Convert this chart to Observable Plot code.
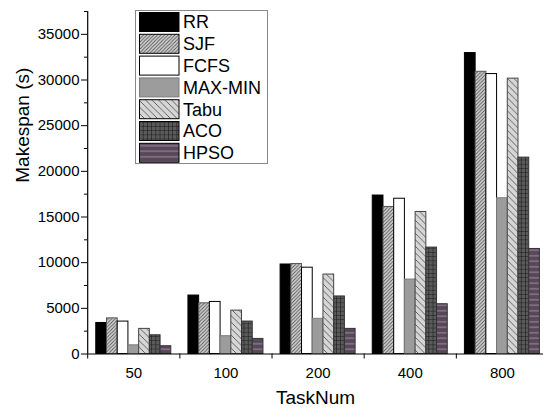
<!DOCTYPE html>
<html><head><meta charset="utf-8">
<script src="https://cdn.jsdelivr.net/npm/d3@7"></script>
<script src="https://cdn.jsdelivr.net/npm/@observablehq/plot@0.6"></script>
<style>body{margin:0;background:#fff} svg{font-family:"Liberation Sans",Arial,sans-serif}</style>
</head><body><div id="chart"></div>
<script>
const groups = ["50", "100", "200", "400", "800"];
const series = ["RR", "SJF", "FCFS", "MAX-MIN", "Tabu", "ACO", "HPSO"];
const RR     = [3400, 6400, 9800, 17350, 32950];
const SJF    = [3900, 5550, 9850, 16100, 30900];
const FCFS   = [3550, 5700, 9450, 17000, 30650];
const MAXMIN = [950, 1950, 3850, 8150, 17050];
const Tabu   = [2750, 4750, 8700, 15550, 30150];
const ACO    = [2050, 3550, 6300, 11650, 21500];
const HPSO   = [850, 1650, 2750, 5450, 11500];
const values = [RR, SJF, FCFS, MAXMIN, Tabu, ACO, HPSO];
const yTicks = [0, 5000, 10000, 15000, 20000, 25000, 30000, 35000];

const fills = ["#000000", "url(#pSJF)", "#ffffff", "#9c9c9c", "url(#pTabu)", "url(#pACO)", "url(#pHPSO)"];
const strokes = ["#000000", "#555555", "#000000", "#7a7a7a", "#444444", "#333333", "#333333"];

const pad = 0.8, n = series.length, step = 1 / (n + 2 * pad);
const data = [];
series.forEach((s, si) => groups.forEach((g, gi) => {
  const x1 = gi - 0.5 + (pad + si) * step;
  data.push({series: s, si, group: g, gi, value: values[si][gi], x1, x2: x1 + step});
}));

const font = 15;
const plot = Plot.plot({
  width: 545, height: 409,
  marginLeft: 87, marginRight: 2, marginTop: 11, marginBottom: 55.5,
  style: {fontFamily: '"Liberation Sans", Arial, sans-serif', background: "#fff", color: "#000"},
  x: {type: "linear", domain: [-0.5, 4.5], range: [87.2, 548]},
  y: {domain: [0, 37500]},
  marks: [
    ...series.map((s, si) => Plot.rectY(data.filter(d => d.si === si), {
      x1: "x1", x2: "x2", y: "value", fill: fills[si], stroke: strokes[si], strokeWidth: 1
    })),
    Plot.ruleY([0], {stroke: "#000", strokeWidth: 1.2}),
    Plot.ruleX([-0.5], {stroke: "#000", strokeWidth: 1.2}),
    Plot.axisY({ticks: yTicks, tickSize: 6, tickPadding: 2, fontSize: font, label: null, tickFormat: d => String(d)}),
    Plot.axisY({ticks: d3.range(2500, 37501, 5000), tickSize: 3, tickFormat: () => "", label: null}),
    Plot.axisX({ticks: d3.range(0, groups.length), tickSize: 0, tickPadding: 13, fontSize: font, tickFormat: i => groups[i], label: null}),
    Plot.axisX({ticks: d3.range(-0.5, groups.length - 0.5, 1), tickSize: 5, tickFormat: () => "", label: null}),
    Plot.text(["Makespan (s)"], {frameAnchor: "left", rotate: -90, dx: -65, fontSize: 19, fill: "#000"}),
    Plot.text(["TaskNum"], {frameAnchor: "bottom", dy: 50, fontSize: 19, fill: "#000"})
  ]
});

const svg = d3.select(plot);
const defs = svg.insert("defs", ":first-child");
function pattern(id, size, bg, lines, color, w) {
  const p = defs.append("pattern").attr("id", id).attr("patternUnits", "userSpaceOnUse")
    .attr("width", size).attr("height", size);
  p.append("rect").attr("width", size).attr("height", size).attr("fill", bg);
  p.append("path").attr("d", lines).attr("stroke", color).attr("stroke-width", w).attr("fill", "none");
}
const s1 = 3.5;
pattern("pSJF", s1, "#d4d4d4", `M0,${s1} L${s1},0 M${-1},1 L1,-1 M${s1-1},${s1+1} L${s1+1},${s1-1}`, "#555", 0.9);
const s2 = 6.5;
pattern("pTabu", s2, "#d6d6d6", `M0,0 L${s2},${s2} M-1,${s2-1} L1,${s2+1} M${s2-1},-1 L${s2+1},1`, "#555", 0.9);
const s3 = 4.2;
pattern("pACO", s3, "#5a5a5a", `M0,0 L${s3},0 M0,0 L0,${s3}`, "#111", 1);
const s4 = 5.5;
pattern("pHPSO", s4, "#564858", `M0,${s4/2} L${s4},${s4/2}`, "#b999b6", 0.8);

// legend
const lg = svg.append("g").attr("text-anchor", "start");
lg.append("rect").attr("x", 135.5).attr("y", 10.5).attr("width", 132).attr("height", 153)
  .attr("fill", "#fff").attr("stroke", "#888").attr("stroke-width", 1);
series.forEach((s, i) => {
  const y = 12.5 + i * 21.8;
  lg.append("rect").attr("x", 139.5).attr("y", y).attr("width", 39.5).attr("height", 19)
    .attr("fill", fills[i]).attr("stroke", strokes[i] === "#7a7a7a" ? "#7a7a7a" : "#000").attr("stroke-width", 1);
  lg.append("text").attr("x", 183).attr("y", y + 9.5).attr("dy", "0.35em").attr("text-anchor", "start")
    .attr("font-size", 18).attr("fill", "#000").text(s);
});

document.getElementById("chart").appendChild(plot);
</script>
</body></html>
